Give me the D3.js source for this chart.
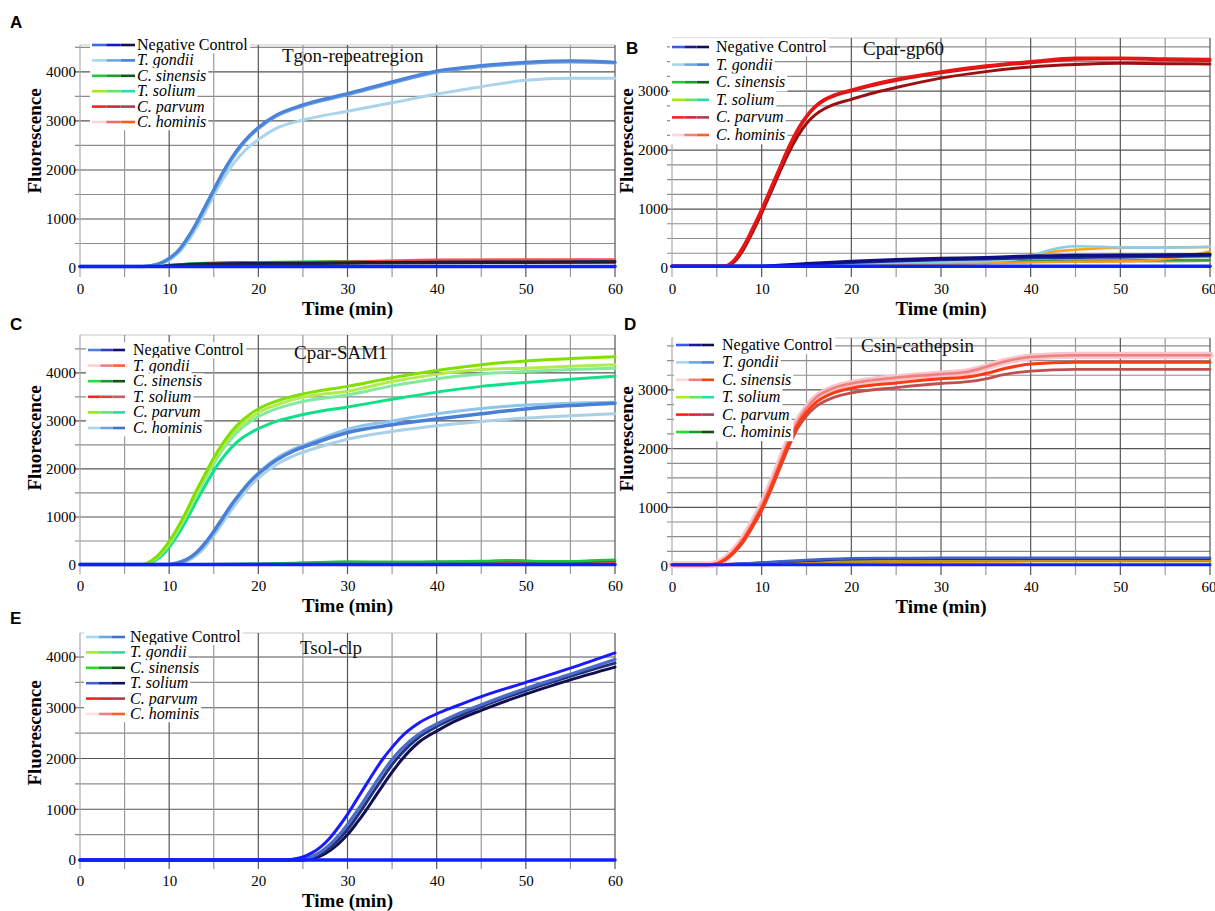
<!DOCTYPE html>
<html><head><meta charset="utf-8">
<script src="https://cdn.jsdelivr.net/npm/d3@7"></script>
<style>body{margin:0;background:#fff;} svg{display:block;}</style>
</head><body><svg id="c" width="1215" height="911"></svg>
<script>
// ---------------- DATA ----------------
const legendLabels = ["Negative Control","T. gondii","C. sinensis","T. solium","C. parvum","C. hominis"];
const xTicks = [0,10,20,30,40,50,60];

// Panel A: Tgon-repeatregion
const tA = [0,7,8,9,10,11,12,13,14,15,16,17,18,19,20,22,25,30,35,40,45,50,55,60];
const A_tg1 = [30,30,50,100,200,350,600,900,1250,1600,1950,2250,2500,2700,2870,3120,3330,3560,3800,4020,4130,4200,4230,4200];
const A_tg2 = [30,30,45,95,190,340,580,880,1220,1570,1920,2220,2470,2680,2850,3100,3310,3540,3780,4000,4110,4180,4210,4190];
const A_tg3 = [30,30,40,80,160,300,520,800,1130,1480,1800,2080,2300,2480,2620,2850,3020,3200,3370,3550,3700,3830,3870,3870];
const tAb = [0,8,10,12,15,20,30,40,50,60];
const A_b1 = [30,30,60,90,110,120,140,150,155,160];
const A_b2 = [30,30,50,80,100,110,125,135,140,145];
const A_b3 = [30,30,45,70,85,95,110,120,125,130];
const A_b4 = [30,30,40,55,70,80,95,105,110,115];
const A_b5 = [30,30,55,85,100,115,130,140,145,150];
const A_b6 = [30,30,45,70,90,110,130,170,175,175];
const A_b7 = [30,30,40,60,80,95,110,120,125,125];
const A_neg = [30,30,30,30,30,30,30,30,30,30];

// Panel B: Cpar-gp60
const tB = [0,5,6,7,8,9,10,11,12,13,14,15,16,17,18,20,22,25,30,35,40,45,50,55,60];
const B_cp1 = [30,30,40,150,380,680,1000,1350,1700,2050,2350,2580,2750,2860,2930,3020,3100,3200,3330,3430,3500,3560,3560,3550,3540];
const B_cp2 = [30,30,35,130,350,650,970,1320,1680,2020,2320,2560,2730,2840,2910,3000,3080,3180,3310,3410,3480,3540,3550,3530,3520];
const B_cp3 = [30,30,30,110,320,610,930,1270,1620,1950,2230,2450,2600,2700,2770,2860,2950,3060,3220,3330,3410,3450,3470,3465,3460];
const tBb = [0,10,15,20,25,30,35,38,40,42,45,50,55,60];
const B_b1 = [30,30,70,110,140,160,175,190,200,205,210,215,220,230];
const B_b2 = [30,30,60,90,115,135,150,160,165,170,175,180,190,200];
const B_b3 = [30,30,50,70,90,105,120,140,200,300,370,350,345,360];
const B_b4 = [30,30,45,60,75,90,110,150,210,270,310,340,350,355];
const B_b5 = [30,30,40,50,60,70,80,90,95,100,105,110,150,280];
const B_b6 = [30,30,50,70,85,100,110,115,120,125,130,130,135,135];
const B_b7 = [30,30,45,60,70,80,90,95,100,105,110,115,115,120];
const B_neg = [30,30,30,30,30,30,30,30,30,30,30,30,30,30];

// Panel C: Cpar-SAM1
const tC = [0,7,8,9,10,11,12,13,14,15,16,17,18,19,20,21,22,24,26,30,35,40,45,50,55,60];
const C_g1 = [10,10,90,250,490,790,1140,1530,1880,2230,2530,2780,2980,3130,3250,3340,3410,3520,3600,3720,3900,4050,4170,4250,4300,4340];
const C_g2 = [10,10,80,230,460,760,1100,1480,1830,2170,2470,2710,2900,3050,3170,3260,3330,3450,3530,3620,3820,3970,4070,4100,4140,4170];
const C_g3 = [10,10,70,210,430,720,1060,1430,1780,2110,2400,2640,2830,2970,3090,3180,3250,3360,3440,3540,3730,3880,3980,4030,4070,4100];
const C_g4 = [10,10,50,170,370,640,960,1310,1640,1960,2230,2450,2620,2740,2840,2920,2990,3090,3170,3290,3450,3600,3720,3800,3870,3930];
const C_h1 = [10,10,10,10,10,50,120,250,450,700,980,1260,1500,1720,1900,2050,2180,2380,2520,2760,2920,3040,3150,3250,3320,3370];
const C_h2 = [10,10,10,10,10,40,100,220,410,660,940,1220,1490,1730,1920,2080,2220,2420,2560,2830,3000,3150,3260,3330,3370,3390];
const C_h3 = [10,10,10,10,10,30,80,190,370,610,880,1150,1400,1630,1810,1960,2090,2280,2410,2620,2780,2900,2990,3060,3110,3150];
const tCb = [0,10,20,25,30,35,40,45,48,50,52,55,58,60];
const C_b1 = [10,10,25,45,70,65,70,80,100,90,75,75,100,110];
const C_b2 = [10,10,20,40,55,55,60,70,85,80,65,65,85,95];
const C_b3 = [10,10,15,25,35,40,45,50,55,55,55,55,60,65];
const C_b4 = [10,10,12,20,25,30,35,40,45,45,40,40,45,50];
const C_neg = [10,10,10,10,10,10,10,10,10,10,10,10,10,10];

// Panel D: Csin-cathepsin
const tD = [0,4,5,6,7,8,9,10,11,12,13,14,15,16,18,20,25,30,33,35,37,40,45,50,60];
const D_cs1 = [20,20,45,130,280,480,740,1030,1380,1760,2140,2460,2690,2860,3030,3110,3210,3270,3310,3390,3480,3560,3590,3590,3590];
const D_cs2 = [20,20,40,120,260,450,700,980,1320,1700,2080,2400,2620,2780,2950,3030,3120,3190,3220,3280,3360,3440,3470,3470,3470];
const D_cs3 = [20,20,35,110,240,420,670,940,1280,1650,2020,2340,2560,2710,2870,2950,3040,3110,3140,3190,3260,3320,3350,3350,3350];
const tDb = [0,5,10,15,20,25,30,40,50,60];
const D_b1 = [20,25,60,100,130,135,140,140,140,140];
const D_b2 = [20,25,55,90,120,125,130,130,130,130];
const D_b3 = [20,20,35,55,70,80,85,90,90,90];
const D_b4 = [20,20,30,45,60,70,75,80,80,80];
const D_b5 = [20,20,40,65,85,95,100,105,105,105];
const D_neg = [20,20,20,20,20,20,20,20,20,20];

// Panel E: Tsol-clp
const tE = [0,23,24,25,26,27,28,29,30,31,32,33,34,35,36,38,40,42,45,50,55,60];
const E_ts1 = [0,0,20,60,140,260,430,650,900,1180,1460,1740,2000,2220,2420,2700,2880,3020,3220,3500,3780,4080];
const E_ts2 = [0,0,0,20,70,160,300,480,700,950,1210,1480,1740,1980,2180,2480,2680,2850,3060,3380,3660,3950];
const E_ts3 = [0,0,0,10,50,120,240,400,600,840,1100,1370,1630,1880,2090,2420,2630,2800,3020,3340,3620,3880];
const E_ts4 = [0,0,0,0,30,80,180,320,500,720,960,1220,1480,1730,1960,2320,2540,2730,2950,3270,3550,3800];
const tEb = [0,60];
const E_neg = [0,0];

// ---------------- PANELS (layout & style) ----------------
const panels = [
 {letter:"A", lx:10, ly:28, x0:80, x1:615, yZero:268, yTop:45, yMax:4550, hStep:500, yTicks:[0,1000,2000,3000,4000],
  title:"Tgon-repeatregion", tx:282, ty:62, edge:false,
  leg:{x:92, w:43, tx:137, y:45, dy:15.4},
  legColors:[["#3a6ae8","#1414c8","#10104a"],["#a8d8f0","#6fa6e0","#4a80d0"],["#22c83a","#1a9a30","#105a18"],["#a6e81a","#60e860","#22e0a8"],["#ff2020","#d02a3a","#a84050"],["#ffd6dc","#e87070","#ff5a20"]],
  series:[
   {t:tAb,v:A_b5,c:"#22d09a",w:2.2},{t:tAb,v:A_b1,c:"#22c040",w:2.4},{t:tAb,v:A_b2,c:"#157030",w:2.4},
   {t:tAb,v:A_b6,c:"#ff5050",w:2.2},{t:tAb,v:A_b7,c:"#ff90a8",w:2.2},{t:tAb,v:A_b3,c:"#12125e",w:2.8},{t:tAb,v:A_b4,c:"#202028",w:2.6},
   {t:tA,v:A_tg3,c:"#a9d4ea",w:3},{t:tA,v:A_tg2,c:"#6c9fe0",w:3.5},{t:tA,v:A_tg1,c:"#4a84d8",w:3},
   {t:tAb,v:A_neg,c:"#1020ff",w:3.5}]},
 {letter:"B", lx:626, ly:54, x0:672, x1:1210, yZero:268, yTop:38, yMax:3900, hStep:250, yTicks:[0,1000,2000,3000],
  title:"Cpar-gp60", tx:863, ty:55, edge:true,
  leg:{x:672, w:37, tx:716, y:47, dy:17.6},
  legColors:[["#3a5ae8","#1a1a90","#10104a"],["#a8d8f0","#6fa6e0","#4a80d0"],["#22c83a","#1a9a30","#105a18"],["#a6e81a","#60e860","#22e0a8"],["#ff2020","#d02a3a","#a84050"],["#ffd6dc","#f08080","#ff6020"]],
  series:[
   {t:tBb,v:B_b7,c:"#a8a830",w:2.4},{t:tBb,v:B_b6,c:"#3c9a48",w:2.4},{t:tBb,v:B_b5,c:"#ff9a20",w:2.4},
   {t:tBb,v:B_b4,c:"#ffa510",w:2.6},{t:tBb,v:B_b3,c:"#87ceeb",w:2.6},{t:tBb,v:B_b2,c:"#2030a0",w:2.6},{t:tBb,v:B_b1,c:"#101080",w:3.5},
   {t:tB,v:B_cp3,c:"#9a1010",w:3},{t:tB,v:B_cp2,c:"#cc1a1a",w:3},{t:tB,v:B_cp1,c:"#e81515",w:3},
   {t:tBb,v:B_neg,c:"#1020ff",w:3.5}]},
 {letter:"C", lx:10, ly:330, x0:80, x1:615, yZero:565, yTop:335, yMax:4790, hStep:500, yTicks:[0,1000,2000,3000,4000],
  title:"Cpar-SAM1", tx:294, ty:359, edge:false,
  leg:{x:88, w:37, tx:133, y:350, dy:15.6},
  legColors:[["#4a80e0","#2a40c0","#101070"],["#ffd0d0","#f08080","#ff6030"],["#22e040","#1a9a30","#105010"],["#ff2020","#e04040","#c06060"],["#90f000","#60e860","#20e0a0"],["#a8d8f0","#6fa6e0","#4070d0"]],
  series:[
   {t:tCb,v:C_b4,c:"#101070",w:2.4},{t:tCb,v:C_b3,c:"#ff6020",w:2.4},{t:tCb,v:C_b2,c:"#1a7a38",w:2.6},{t:tCb,v:C_b1,c:"#22c040",w:2.6},
   {t:tC,v:C_h3,c:"#a9d0e6",w:3},{t:tC,v:C_h2,c:"#8cc4ee",w:3},{t:tC,v:C_h1,c:"#4a7fd4",w:3.5},
   {t:tC,v:C_g4,c:"#10e088",w:3},{t:tC,v:C_g3,c:"#80eaa0",w:3},{t:tC,v:C_g2,c:"#b0ec50",w:3},{t:tC,v:C_g1,c:"#80e000",w:3},
   {t:tCb,v:C_neg,c:"#1020ff",w:3.5}]},
 {letter:"D", lx:624, ly:330, x0:672, x1:1210, yZero:566, yTop:338, yMax:3885, hStep:250, yTicks:[0,1000,2000,3000],
  title:"Csin-cathepsin", tx:861, ty:352, edge:true,
  leg:{x:676, w:38, tx:722, y:345, dy:17.4},
  legColors:[["#3a5ae8","#1a1a90","#10104a"],["#a8d8f0","#6fa6e0","#4a80d0"],["#ffd6dc","#f08080","#ff4010"],["#a6f020","#60e860","#22e0a8"],["#ff2010","#d02a3a","#a84050"],["#22e020","#1a9a30","#105010"]],
  series:[
   {t:tDb,v:D_b5,c:"#50a030",w:2.4},{t:tDb,v:D_b4,c:"#e0a020",w:2.6},{t:tDb,v:D_b3,c:"#c09020",w:2.6},
   {t:tDb,v:D_b2,c:"#101070",w:2.6},{t:tDb,v:D_b1,c:"#4060d0",w:2.6},
   {t:tD,v:D_cs1,c:"#f9c4ca",w:7},{t:tD,v:D_cs1,c:"#f08080",w:2.6},{t:tD,v:D_cs3,c:"#c05050",w:2.8},{t:tD,v:D_cs2,c:"#ff3a10",w:3},
   {t:tDb,v:D_neg,c:"#1020ff",w:3}]},
 {letter:"E", lx:10, ly:624, x0:80, x1:615, yZero:860, yTop:633, yMax:4473, hStep:500, yTicks:[0,1000,2000,3000,4000],
  title:"Tsol-clp", tx:300, ty:654, edge:false,
  leg:{x:86, w:39, tx:130, y:637, dy:15.4},
  legColors:[["#a8d8f0","#6fa6e0","#4070d0"],["#a6f020","#60e860","#20e0a0"],["#22e020","#1a9a30","#105010"],["#4060e0","#2030a0","#101060"],["#ff2020","#d02a3a","#a84050"],["#ffe0e0","#f08080","#ff6020"]],
  series:[
   {t:tE,v:E_ts4,c:"#101050",w:3},{t:tE,v:E_ts3,c:"#23307f",w:3},{t:tE,v:E_ts2,c:"#4a6cc8",w:3.2},{t:tE,v:E_ts1,c:"#1a1aff",w:3},
   {t:tEb,v:E_neg,c:"#1020ff",w:3.5}]}
];

// ---------------- DRAW ----------------
const svg = d3.select("#c");
const SERIF = "'Liberation Serif','Times New Roman',serif";

panels.forEach(p => {
  const x = d3.scaleLinear().domain([0,60]).range([p.x0,p.x1]);
  const y = d3.scaleLinear().domain([0,p.yMax]).range([p.yZero,p.yTop]);
  const g = svg.append("g");

  // horizontal grid
  const hv = d3.range(p.hStep, p.yMax, p.hStep);
  g.selectAll("line.h").data(hv).join("line").attr("class","h")
    .attr("x1",p.x0-5).attr("x2",p.x1).attr("y1",d=>y(d)).attr("y2",d=>y(d))
    .attr("stroke",d=> d%1000===0 ? "#555" : "#8c8c8c").attr("stroke-width",1.2);
  // top frame
  g.append("line").attr("x1",p.x0).attr("x2",p.x1).attr("y1",p.yTop).attr("y2",p.yTop)
    .attr("stroke","#c8c8c8").attr("stroke-width",1.2);
  // vertical grid
  g.selectAll("line.v").data(d3.range(0,61,5)).join("line").attr("class","v")
    .attr("x1",d=>x(d)).attr("x2",d=>x(d)).attr("y1",p.yTop).attr("y2",p.yZero+9)
    .attr("stroke",d=> d===0 ? "#aaa" : (d%10===0 ? "#555" : "#999")).attr("stroke-width",1.2);

  // axes (labels)
  const xa = g.append("g").attr("transform",`translate(0,${p.yZero})`)
    .call(d3.axisBottom(x).tickValues(xTicks).tickSize(0).tickPadding(15));
  xa.select(".domain").remove();
  xa.attr("font-family",null);
  xa.selectAll("text").style("font-family",SERIF).style("font-size","15px").attr("fill","#000");
  if (p.edge) xa.selectAll("text").filter(d=>d===60).attr("text-anchor","end").attr("dx","6px");
  const ya = g.append("g").attr("transform",`translate(${p.x0},0)`)
    .call(d3.axisLeft(y).tickValues(p.yTicks).tickSize(0).tickPadding(4).tickFormat(d3.format("d")));
  ya.select(".domain").remove();
  ya.attr("font-family",null);
  ya.selectAll("text").style("font-family",SERIF).style("font-size","15px").attr("fill","#000");

  // series
  const line = d3.line().x(d=>x(d[0])).y(d=>y(d[1])).curve(d3.curveMonotoneX);
  p.series.forEach(s => {
    g.append("path").datum(s.t.map((t,i)=>[t,s.v[i]]))
      .attr("d",line).attr("fill","none").attr("stroke",s.c).attr("stroke-width",s.w)
      .attr("stroke-linejoin","round").attr("stroke-linecap","round");
  });

  // legend
  const L = p.leg;
  legendLabels.forEach((lab,i) => {
    const cy = L.y + i*L.dy;
    const row = g.append("g");
    const bg = row.append("rect").attr("fill","#fff");
    const cols = p.legColors[i];
    const segW = L.w/cols.length;
    cols.forEach((c,k)=>{
      row.append("line").attr("x1",L.x+k*segW).attr("x2",L.x+(k+1)*segW).attr("y1",cy).attr("y2",cy)
        .attr("stroke",c).attr("stroke-width",2.6);
    });
    const t = row.append("text").attr("x",L.tx).attr("y",cy+5).text(lab)
      .style("font-family",SERIF).style("font-size","16px").attr("fill","#000")
      .style("font-style", i===0 ? "normal" : "italic");
    const bb = t.node().getBBox();
    bg.attr("x",L.x-2).attr("y",cy-L.dy/2).attr("width",bb.x+bb.width-L.x+4).attr("height",L.dy+0.5);
  });

  // title
  g.append("text").attr("x",p.tx).attr("y",p.ty).text(p.title)
    .style("font-family",SERIF).style("font-size","19px").attr("fill","#111");
  // axis titles
  g.append("text").attr("x",(p.x0+p.x1)/2).attr("y",p.yZero+47).attr("text-anchor","middle")
    .style("font-family",SERIF).style("font-weight","bold").style("font-size","19px").text("Time (min)");
  g.append("text").attr("transform",`translate(${p.x0-39},${p.yZero-127}) rotate(-90)`).attr("text-anchor","middle")
    .style("font-family",SERIF).style("font-weight","bold").style("font-size","19px").text("Fluorescence");
  // panel letter
  g.append("text").attr("x",p.lx).attr("y",p.ly).text(p.letter)
    .style("font-family","'Liberation Sans',Arial,sans-serif").style("font-weight","bold").style("font-size","17px");
});
</script></body></html>
